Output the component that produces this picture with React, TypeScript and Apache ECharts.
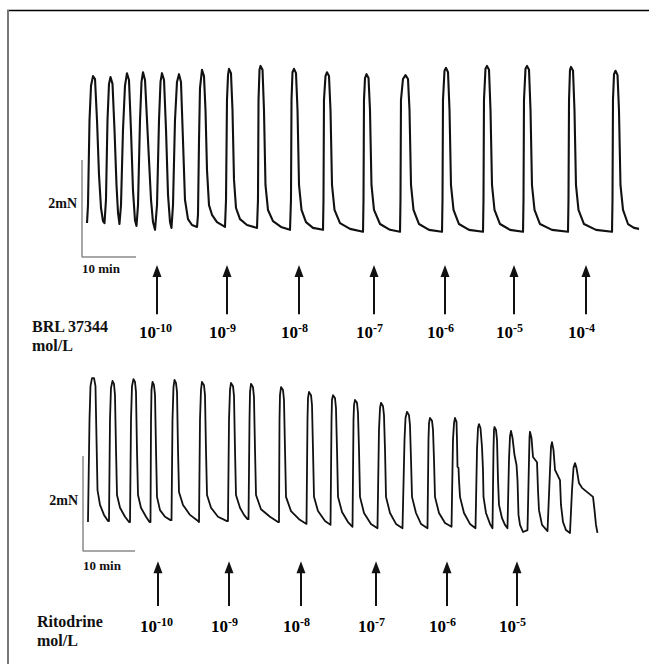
import React, { useEffect, useRef } from "react";
import * as echarts from "echarts";

// Time in minutes (0 = start of the 10-min scale bar), force in mN.
const brlTrace: number[][] = [
  [0.93,0.70],[1.11,1.07],[1.39,2.82],[1.67,3.53],[2.04,3.73],[2.41,3.67],[2.78,2.82],[3.15,1.69],[3.52,1.01],[3.89,0.74],[4.17,0.70],
  [4.44,1.18],[4.72,2.82],[5.00,3.57],[5.28,3.71],[5.65,3.57],[6.02,2.62],[6.39,1.48],[6.67,0.91],[6.94,0.68],
  [7.22,1.07],[7.59,2.62],[7.96,3.53],[8.33,3.79],[8.70,3.65],[9.07,2.62],[9.44,1.38],[9.81,0.76],[10.09,0.64],
  [10.37,1.07],[10.74,2.82],[11.02,3.61],[11.30,3.81],[11.67,3.65],[12.22,2.41],[12.78,1.18],[13.15,0.72],[13.52,0.56],
  [13.89,1.07],[14.26,2.82],[14.54,3.61],[14.81,3.79],[15.19,3.65],[15.56,2.62],[15.93,1.28],[16.30,0.72],[16.57,0.60],
  [16.85,1.07],[17.22,2.82],[17.59,3.61],[17.96,3.77],[18.33,3.61],[18.70,2.41],[19.07,1.18],[19.63,0.78],[20.37,0.66],[21.30,0.62],
  [21.48,0.87],[21.67,2.41],[21.85,3.48],[22.22,3.86],[22.59,3.73],[22.87,3.03],[23.15,1.79],[23.52,1.07],[24.07,0.87],[25.00,0.72],[26.48,0.62],
  [26.67,1.18],[26.85,3.24],[27.04,3.75],[27.22,3.88],[27.59,3.79],[27.87,3.03],[28.15,1.59],[28.52,1.01],[29.26,0.78],[30.56,0.66],[32.41,0.60],
  [32.59,1.18],[32.69,3.24],[32.87,3.86],[33.06,3.94],[33.43,3.86],[33.70,3.03],[33.98,1.48],[34.44,0.97],[35.37,0.74],[36.85,0.62],[38.52,0.56],
  [38.70,1.18],[38.80,3.24],[38.98,3.81],[39.26,3.88],[39.63,3.79],[39.91,3.03],[40.19,1.48],[40.65,0.97],[41.48,0.72],[42.78,0.60],[44.63,0.56],
  [44.72,1.18],[44.81,3.24],[45.09,3.73],[45.37,3.81],[45.74,3.73],[46.02,3.03],[46.30,1.48],[46.76,0.97],[47.78,0.70],[49.63,0.58],[52.04,0.52],
  [52.13,1.18],[52.22,3.24],[52.41,3.69],[52.69,3.77],[53.06,3.69],[53.33,3.03],[53.61,1.48],[54.07,0.97],[55.19,0.68],[57.04,0.56],[58.89,0.52],
  [58.98,1.18],[59.07,3.24],[59.44,3.67],[59.91,3.75],[60.37,3.67],[60.65,3.03],[60.93,1.48],[61.39,0.97],[62.41,0.68],[64.26,0.56],[66.67,0.52],
  [66.76,1.18],[66.85,3.24],[67.13,3.84],[67.41,3.90],[67.78,3.81],[68.06,3.03],[68.33,1.48],[68.80,0.97],[69.81,0.68],[71.67,0.56],[74.26,0.52],
  [74.35,1.18],[74.44,3.24],[74.72,3.88],[75.00,3.94],[75.37,3.86],[75.65,3.03],[75.93,1.48],[76.39,0.97],[77.41,0.68],[79.26,0.56],[81.67,0.52],
  [81.76,1.18],[81.85,3.24],[82.13,3.88],[82.41,3.94],[82.78,3.86],[83.06,3.03],[83.33,1.48],[83.80,0.97],[84.81,0.68],[87.04,0.56],[90.00,0.52],
  [90.09,1.18],[90.19,3.24],[90.37,3.86],[90.56,3.92],[90.93,3.84],[91.20,3.03],[91.48,1.48],[91.94,0.97],[92.96,0.68],[95.19,0.56],[98.15,0.52],
  [98.24,1.18],[98.33,3.24],[98.52,3.77],[98.80,3.84],[99.17,3.75],[99.44,3.03],[99.72,1.48],[100.19,0.97],[101.11,0.68],[102.22,0.60],[103.15,0.58],
];

const ritoTrace: number[][] = [
  [0.96,0.61],[1.25,2.76],[1.44,3.47],[1.73,3.64],[2.12,3.64],[2.40,3.47],[2.60,2.34],[2.79,1.28],[3.27,0.97],[4.04,0.76],[4.81,0.63],
  [5.00,0.63],[5.19,2.76],[5.38,3.43],[5.67,3.58],[5.96,3.52],[6.15,3.28],[6.35,2.13],[6.54,1.18],[7.12,0.91],[8.08,0.72],[8.85,0.61],
  [9.04,0.61],[9.23,2.76],[9.42,3.47],[9.71,3.62],[10.00,3.56],[10.19,3.35],[10.38,2.13],[10.58,1.18],[11.15,0.91],[12.12,0.72],[12.79,0.61],
  [12.98,0.61],[13.08,2.76],[13.17,3.39],[13.37,3.56],[13.65,3.49],[13.85,3.28],[14.04,2.13],[14.23,1.14],[14.81,0.86],[15.77,0.72],[16.83,0.65],
  [17.02,0.65],[17.21,2.76],[17.40,3.45],[17.60,3.60],[17.88,3.54],[18.08,3.35],[18.27,2.13],[18.46,1.24],[19.23,0.97],[20.58,0.76],[22.12,0.63],
  [22.31,0.61],[22.50,2.76],[22.69,3.39],[22.88,3.56],[23.27,3.49],[23.46,3.28],[23.65,2.13],[23.85,1.18],[24.62,0.91],[25.96,0.72],[27.69,0.63],
  [27.88,0.63],[28.08,2.76],[28.27,3.39],[28.46,3.54],[28.85,3.47],[29.04,3.26],[29.23,2.13],[29.42,1.18],[30.19,0.91],[30.96,0.76],[31.63,0.67],
  [31.83,0.67],[32.02,2.76],[32.12,3.35],[32.31,3.52],[32.69,3.45],[32.88,3.24],[33.08,2.13],[33.27,1.18],[34.23,0.88],[35.96,0.72],[37.50,0.61],
  [37.69,0.61],[37.79,2.76],[37.88,3.28],[38.08,3.45],[38.46,3.39],[38.65,3.18],[38.85,2.13],[39.04,1.14],[40.00,0.84],[41.54,0.67],[42.98,0.57],
  [43.08,0.57],[43.17,2.76],[43.27,3.22],[43.46,3.35],[43.85,3.28],[44.04,3.07],[44.23,2.13],[44.42,1.14],[45.19,0.84],[46.54,0.63],[47.60,0.55],
  [47.69,0.55],[47.79,2.76],[47.88,3.18],[48.08,3.28],[48.46,3.22],[48.65,3.01],[48.85,2.13],[49.04,1.14],[49.81,0.82],[50.96,0.61],[51.83,0.51],
  [51.92,0.51],[52.02,2.76],[52.12,3.07],[52.31,3.18],[52.69,3.12],[52.88,2.91],[53.08,2.13],[53.27,1.14],[54.04,0.80],[55.38,0.57],[56.63,0.48],
  [56.73,0.48],[56.92,2.55],[57.12,3.01],[57.31,3.12],[57.69,3.05],[57.88,2.86],[58.08,2.13],[58.27,1.14],[59.04,0.80],[60.19,0.57],[61.44,0.48],
  [61.54,0.48],[61.83,2.34],[62.02,2.80],[62.31,2.93],[62.69,2.86],[62.88,2.65],[63.08,1.92],[63.27,1.14],[64.04,0.80],[65.00,0.57],[66.25,0.48],
  [66.35,0.48],[66.44,2.34],[66.54,2.69],[66.73,2.80],[67.12,2.74],[67.31,2.55],[67.50,1.92],[67.69,1.14],[68.46,0.80],[69.62,0.59],[70.87,0.51],
  [70.96,0.51],[71.15,2.34],[71.35,2.69],[71.54,2.80],[71.83,2.72],[71.92,2.34],[72.02,1.77],[72.21,1.75],[72.31,1.49],[72.50,1.14],[73.27,0.80],[74.42,0.57],[75.48,0.48],
  [75.58,0.48],[75.77,2.13],[75.96,2.59],[76.15,2.67],[76.44,2.59],[76.73,2.19],[76.92,1.71],[77.02,1.14],[77.50,0.80],[78.27,0.57],[78.75,0.48],
  [78.85,0.48],[78.94,2.13],[79.04,2.55],[79.13,2.61],[79.42,2.55],[79.62,2.34],[79.81,1.49],[80.00,0.97],[80.58,0.69],[81.15,0.55],[81.63,0.48],
  [81.73,0.48],[81.92,1.92],[82.12,2.42],[82.31,2.53],[82.60,2.38],[82.98,2.02],[83.37,1.81],[83.56,1.49],[83.75,0.76],[84.04,0.55],[84.62,0.40],[85.48,0.44],
  [85.58,0.44],[85.77,1.92],[85.87,2.40],[85.96,2.51],[86.25,2.38],[86.54,1.98],[87.31,1.87],[87.50,1.28],[87.69,0.86],[88.27,0.55],[89.33,0.42],
  [89.42,0.42],[89.81,1.71],[90.00,2.19],[90.19,2.29],[90.48,2.13],[90.77,1.71],[91.73,1.49],[91.92,0.97],[92.31,0.61],[92.88,0.44],[93.65,0.38],
  [93.75,0.38],[94.04,1.28],[94.33,1.75],[94.62,1.85],[94.90,1.75],[95.38,1.43],[95.96,1.33],[98.08,1.14],[98.37,0.86],[98.65,0.55],[98.94,0.38],
];

// Scale bar: 2 mN vertical, 10 min horizontal
const scaleBar: number[][] = [[0, 2], [0, 0], [10, 0]];

const brlDoseTimes = [13.89, 26.85, 40.19, 54.07, 67.22, 80.0, 93.33];
const brlDoseExponents = ["-10", "-9", "-8", "-7", "-6", "-5", "-4"];
const ritoDoseTimes = [14.42, 28.08, 41.92, 56.35, 70.0, 83.46];
const ritoDoseExponents = ["-10", "-9", "-8", "-7", "-6", "-5"];

const SERIF = '"Liberation Serif", "Times New Roman", serif';

export default function App() {
  const ref = useRef<HTMLDivElement>(null);

  useEffect(() => {
    if (!ref.current) return;
    const chart = echarts.init(ref.current, null, { renderer: "svg" });

    const arrowSeries = (times: number[], idx: number, yFrom: number, yTo: number) => ({
      type: "line",
      xAxisIndex: idx,
      yAxisIndex: idx,
      data: [],
      silent: true,
      markLine: {
        silent: true,
        animation: false,
        symbol: ["none", "triangle"],
        symbolSize: [0, 10],
        label: { show: false },
        emphasis: { disabled: true },
        lineStyle: { color: "#111", width: 2, type: "solid" },
        data: times.map((t) => [
          { coord: [t, yFrom], symbol: "none" },
          { coord: [t, yTo], symbol: "triangle", symbolSize: [9, 12] },
        ]),
      },
    });

    const labelSeries = (times: number[], exps: string[], idx: number, y: number) => ({
      type: "scatter",
      xAxisIndex: idx,
      yAxisIndex: idx,
      symbolSize: 0,
      silent: true,
      itemStyle: { opacity: 1 },
      data: times.map((t, i) => [t, y, exps[i]]),
      label: {
        show: true,
        position: [-18, 0],
        align: "left",
        verticalAlign: "middle",
        color: "#000",
        opacity: 1,
        textBorderWidth: 0,
        formatter: (p: any) => `{b|10}{s|${p.data[2]}}`,
        rich: {
          b: { fontFamily: SERIF, fontWeight: "bold", fontSize: 17, color: "#000", textBorderWidth: 0, verticalAlign: "bottom", lineHeight: 20 },
          s: { fontFamily: SERIF, fontWeight: "bold", fontSize: 12, color: "#000", textBorderWidth: 0, verticalAlign: "bottom", padding: [0, 0, 7, 0] },
        },
      },
    });

    const text = (t: string, x: number, y: number, size: number, align = "left") => ({
      type: "text",
      x,
      y,
      silent: true,
      style: {
        text: t,
        font: `bold ${size}px ${SERIF}`,
        fill: "#111",
        align,
        textAlign: align,
        verticalAlign: "middle",
        textVerticalAlign: "middle",
      },
    });

    const option: any = {
      animation: false,
      backgroundColor: "#ffffff",
      grid: [
        { left: 82, top: 53.3, width: 567, height: 300.7 },
        { left: 83, top: 361, width: 561.6, height: 285 },
      ],
      xAxis: [
        { gridIndex: 0, type: "value", min: 0, max: 105, show: false },
        { gridIndex: 1, type: "value", min: 0, max: 108, show: false },
      ],
      yAxis: [
        { gridIndex: 0, type: "value", min: -2, max: 4.2, show: false },
        { gridIndex: 1, type: "value", min: -2, max: 4, show: false },
      ],
      series: [
        {
          type: "line", xAxisIndex: 0, yAxisIndex: 0, data: brlTrace, symbol: "none", showSymbol: false, silent: true,
          lineStyle: { color: "#111", width: 2.1, join: "round" },
        },
        {
          type: "line", xAxisIndex: 0, yAxisIndex: 0, data: scaleBar, symbol: "none", showSymbol: false, silent: true,
          lineStyle: { color: "#8a8a8a", width: 1.5 },
        },
        {
          type: "line", xAxisIndex: 1, yAxisIndex: 1, data: ritoTrace, symbol: "none", showSymbol: false, silent: true,
          lineStyle: { color: "#111", width: 1.8, join: "round" },
        },
        {
          type: "line", xAxisIndex: 1, yAxisIndex: 1, data: scaleBar, symbol: "none", showSymbol: false, silent: true,
          lineStyle: { color: "#8a8a8a", width: 1.5 },
        },
        arrowSeries(brlDoseTimes, 0, -1.18, -0.29),
        arrowSeries(ritoDoseTimes, 1, -1.16, -0.34),
        labelSeries(brlDoseTimes, brlDoseExponents, 0, -1.53),
        labelSeries(ritoDoseTimes, ritoDoseExponents, 1, -1.55),
      ],
      graphic: [
        { type: "line", silent: true, shape: { x1: 7, y1: 10.5, x2: 649, y2: 10.5 }, style: { stroke: "#000", lineWidth: 1.5 } },
        { type: "line", silent: true, shape: { x1: 8, y1: 10, x2: 8, y2: 664 }, style: { stroke: "#777", lineWidth: 2 } },
        text("2mN", 77, 203, 14, "right"),
        text("10 min", 82, 268, 13),
        text("BRL 37344", 32, 326, 16),
        text("mol/L", 32, 345, 16),
        text("2mN", 78, 500, 14, "right"),
        text("10 min", 83, 565, 13),
        text("Ritodrine", 37, 621, 16),
        text("mol/L", 37, 640, 16),
      ],
    };

    chart.setOption(option);
    return () => chart.dispose();
  }, []);

  return (
    <div
      ref={ref}
      style={{ position: "absolute", left: 0, top: 0, width: 649, height: 664, background: "#fff" }}
    />
  );
}
